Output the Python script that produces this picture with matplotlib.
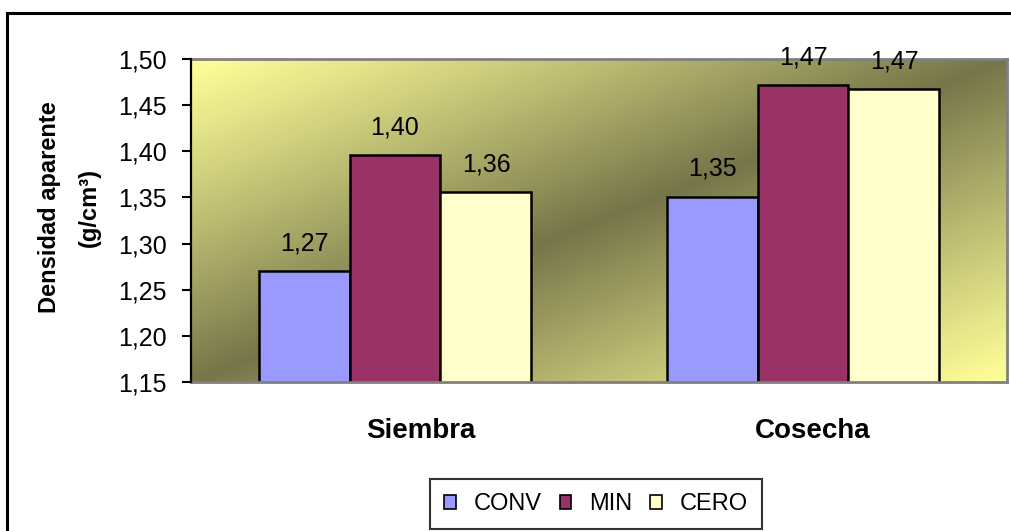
import numpy as np
import matplotlib
matplotlib.use("Agg")
import matplotlib.pyplot as plt
from matplotlib.patches import Rectangle
from matplotlib.ticker import FuncFormatter, MultipleLocator
from matplotlib.transforms import ScaledTranslation

plt.rcParams['font.family'] = ['Liberation Sans', 'DejaVu Sans']

# Data
categories = ["Siembra", "Cosecha"]
series_names = ["CONV", "MIN", "CERO"]
conv_values = [1.27, 1.351]
min_values = [1.396, 1.472]
cero_values = [1.356, 1.467]
series_values = [conv_values, min_values, cero_values]
series_colors = ["#9999FF", "#993366", "#FFFFCC"]

W, H = 1012, 531
fig = plt.figure(figsize=(W / 100, H / 100), dpi=100)
fig.patch.set_facecolor("white")

ax = fig.add_axes([191 / W, 1 - 382 / H, (1007 - 191) / W, (382 - 59) / H])

# Diagonal two-tone gradient for the plot area
n = 300
u = np.linspace(0, 1, n)
uu, vv = np.meshgrid(u, u)
t = (uu + vv) / 2
w = np.clip(1 - np.abs(2 * t - 1), 0, 1) ** 1.1
light = np.array([1.0, 1.0, 0.60])
dark = np.array([0.46, 0.46, 0.29])
grad = light[None, None, :] * (1 - w[..., None]) + dark[None, None, :] * w[..., None]
ax.imshow(grad, extent=(0, 1, 0, 1), transform=ax.transAxes, origin="upper",
          aspect="auto", zorder=0, interpolation="bilinear")

x = np.arange(len(categories))
bw = 0.223
offsets = [-bw, 0, bw]
for vals, off, col, name in zip(series_values, offsets, series_colors, series_names):
    ax.bar(x + off, vals, width=bw, bottom=0, color=col, edgecolor="black",
           linewidth=1.8, label=name, zorder=2)
    for xi, v in zip(x + off, vals):
        ax.annotate(f"{v:.2f}".replace(".", ","), (xi, v), xytext=(0, 15),
                    textcoords="offset points", ha="center", va="baseline",
                    fontsize=18, annotation_clip=False, zorder=3)

ax.set_xlim(-0.5, 1.5)
ax.set_ylim(1.15, 1.50)
ax.yaxis.set_major_locator(MultipleLocator(0.05))
ax.yaxis.set_major_formatter(FuncFormatter(lambda v, p: f"{v:.2f}".replace(".", ",")))
ax.tick_params(axis="y", direction="out", length=6.5, width=1.5, pad=11, labelsize=18)
ax.set_xticks(x)
ax.set_xticklabels(categories, fontweight="bold", fontsize=20)
ax.tick_params(axis="x", length=0, pad=26)
for lab, dx in zip(ax.get_xticklabels(), [26, 10]):
    lab.set_transform(lab.get_transform() + ScaledTranslation(dx / 100, 0, fig.dpi_scale_trans))

for side in ["top", "right", "bottom"]:
    ax.spines[side].set_color("#808080")
    ax.spines[side].set_linewidth(2)
ax.spines["left"].set_color("black")
ax.spines["left"].set_linewidth(1.6)
ax.spines["left"].set_zorder(4)

# Axis title in two lines
fig.text(50 / W, 1 - 207 / H, "Densidad aparente", rotation=90, ha="center",
         va="center", fontsize=17, fontweight="bold")
fig.text(89 / W, 1 - 207 / H, "(g/cm³)", rotation=90, ha="center",
         va="center", fontsize=17, fontweight="bold")

leg = fig.legend(loc="center", bbox_to_anchor=(596 / W, 1 - 504 / H), ncol=3,
                 frameon=True, fancybox=False, edgecolor="black", fontsize=17,
                 handlelength=0.5, handleheight=0.55, handletextpad=0.75,
                 columnspacing=0.75, borderpad=0.6, borderaxespad=0)
leg.get_frame().set_linewidth(1.5)
for h in leg.legend_handles:
    h.set_linewidth(1.2)

# Outer chart frame
fig.patches.append(Rectangle((7 / W, -10 / H), (W + 20) / W, (H - 13 + 10) / H,
                             transform=fig.transFigure, fill=False,
                             edgecolor="black", linewidth=2.2))

fig.savefig("out.png", dpi=100)
